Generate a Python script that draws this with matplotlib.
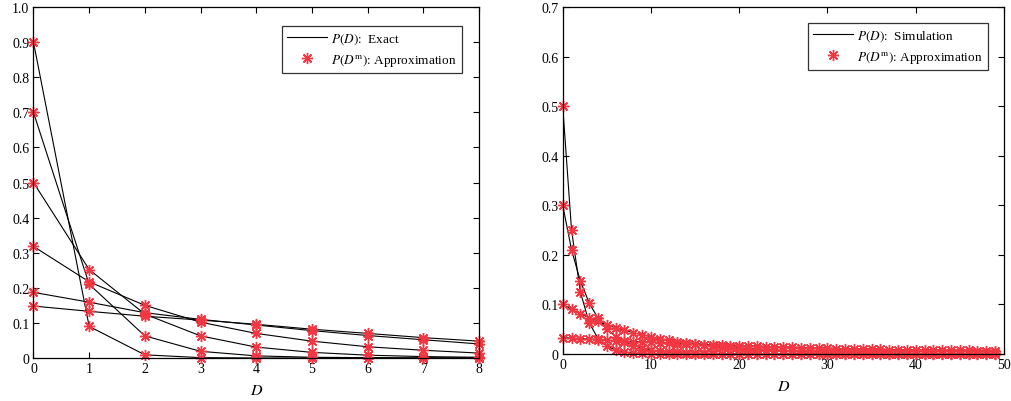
import numpy as np
import matplotlib
matplotlib.use("Agg")
import matplotlib.pyplot as plt

plt.rcParams['font.family'] = ['Liberation Serif', 'DejaVu Serif']
plt.rcParams['mathtext.fontset'] = 'stix'

# left panel: D = 0..8, six curves
left_D = [0, 1, 2, 3, 4, 5, 6, 7, 8]
left_a = [0.900, 0.090, 0.009, 0.001, 0.000, 0.000, 0.000, 0.000, 0.000]
left_b = [0.700, 0.210, 0.063, 0.019, 0.006, 0.002, 0.001, 0.000, 0.000]
left_c = [0.500, 0.252, 0.125, 0.063, 0.031, 0.016, 0.008, 0.004, 0.002]
left_d = [0.318, 0.217, 0.150, 0.102, 0.070, 0.048, 0.032, 0.022, 0.014]
left_e = [0.187, 0.159, 0.129, 0.110, 0.094, 0.078, 0.064, 0.052, 0.040]
left_f = [0.148, 0.133, 0.119, 0.108, 0.096, 0.082, 0.070, 0.058, 0.048]

# right panel: D = 0..49, four curves
right_a = [0.500, 0.250, 0.125, 0.063, 0.031, 0.016, 0.008, 0.004, 0.002, 0.001] + [0.0] * 40
right_b = [0.300, 0.210, 0.147, 0.103, 0.072, 0.050, 0.035, 0.025, 0.017, 0.012,
           0.008, 0.006, 0.004, 0.003, 0.002, 0.001, 0.001, 0.001, 0.000, 0.000] + [0.0] * 30
right_c = [0.100, 0.090, 0.081, 0.073, 0.066, 0.059, 0.053, 0.048, 0.043, 0.039,
           0.035, 0.031, 0.028, 0.025, 0.023, 0.021, 0.019, 0.017, 0.015, 0.014,
           0.012, 0.011, 0.010, 0.009, 0.008, 0.007, 0.006, 0.006, 0.005, 0.005,
           0.004, 0.004, 0.003, 0.003, 0.003, 0.003, 0.002, 0.002, 0.002, 0.002,
           0.001, 0.001, 0.001, 0.001, 0.001, 0.001, 0.001, 0.001, 0.001, 0.001]
right_d = [0.033, 0.032, 0.031, 0.030, 0.029, 0.028, 0.027, 0.026, 0.025, 0.024,
           0.024, 0.023, 0.022, 0.021, 0.021, 0.020, 0.019, 0.019, 0.018, 0.017,
           0.017, 0.016, 0.016, 0.015, 0.015, 0.014, 0.014, 0.013, 0.013, 0.012,
           0.012, 0.011, 0.011, 0.011, 0.010, 0.010, 0.010, 0.009, 0.009, 0.009,
           0.008, 0.008, 0.008, 0.007, 0.007, 0.007, 0.007, 0.006, 0.006, 0.006]

left_yticks = [0, 0.1, 0.2, 0.3, 0.4, 0.5, 0.6, 0.7, 0.8, 0.9, 1.0]
left_ylabels = ['0', '0.1', '0.2', '0.3', '0.4', '0.5', '0.6', '0.7', '0.8', '0.9', '1.0']
right_xticks = [0, 10, 20, 30, 40, 50]
right_yticks = [0, 0.1, 0.2, 0.3, 0.4, 0.5, 0.6, 0.7]
right_ylabels = ['0', '0.1', '0.2', '0.3', '0.4', '0.5', '0.6', '0.7']

red = '#f23642'
star = (8, 2, 0)

fig = plt.figure(figsize=(10.11, 4.02), dpi=100)
ax1 = fig.add_axes([0.0331, 0.107, 0.4407, 0.873])
ax2 = fig.add_axes([0.5566, 0.117, 0.4364, 0.863])


def style(ax):
    ax.tick_params(direction='in', top=True, right=True, length=4, width=0.8,
                   labelsize=10, pad=3)
    for s in ax.spines.values():
        s.set_linewidth(0.9)
    ax.set_xlabel('$D$', fontsize=11.5, labelpad=5)


for ys in [left_a, left_b, left_c, left_d, left_e, left_f]:
    ax1.plot(left_D, ys, color='black', lw=0.8)
for ys in [left_a, left_b, left_c, left_d, left_e, left_f]:
    ax1.plot(left_D, ys, ls='none', marker=star, ms=8, mew=1.0, color=red, clip_on=False)
ax1.set_xlim(0, 8)
ax1.set_ylim(0, 1)
ax1.set_xticks(left_D)
ax1.set_yticks(left_yticks)
ax1.set_yticklabels(left_ylabels)
style(ax1)
h = ax1.get_lines()
ax1.legend([h[0], h[6]], ['$P(D)$:  Exact', '$P(D^{\\mathrm{m}})$: Approximation'],
           loc='upper right', bbox_to_anchor=(0.962, 0.946), borderaxespad=0,
           fontsize=9.5, frameon=True, fancybox=False, edgecolor='black',
           handlelength=3.0, borderpad=0.4, labelspacing=0.45,
           handletextpad=0.35).get_frame().set_linewidth(0.9)

right_D = np.arange(len(right_a))
for ys in [right_a, right_b, right_c, right_d]:
    ax2.plot(right_D, ys, color='black', lw=0.8)
for ys in [right_a, right_b, right_c, right_d]:
    ax2.plot(right_D, ys, ls='none', marker=star, ms=8, mew=1.0, color=red, clip_on=False)
ax2.set_xlim(0, 50)
ax2.set_ylim(0, 0.7)
ax2.set_xticks(right_xticks)
ax2.set_yticks(right_yticks)
ax2.set_yticklabels(right_ylabels)
style(ax2)
h = ax2.get_lines()
ax2.legend([h[0], h[4]], ['$P(D)$:  Simulation', '$P(D^{\\mathrm{m}})$: Approximation'],
           loc='upper right', bbox_to_anchor=(0.964, 0.954), borderaxespad=0,
           fontsize=9.5, frameon=True, fancybox=False, edgecolor='black',
           handlelength=3.0, borderpad=0.4, labelspacing=0.45,
           handletextpad=0.35).get_frame().set_linewidth(0.9)

fig.savefig('out.png', dpi=100)
